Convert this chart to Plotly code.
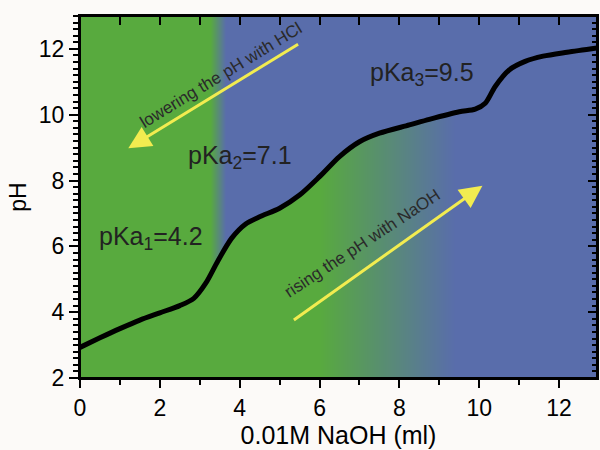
import numpy as np
import plotly.graph_objects as go

# ---- data ----
naoh_ml = [0, 0.5, 1.0, 1.5, 2.0, 2.5, 2.85, 3.15, 3.45, 3.8, 4.15, 4.5, 5.0, 5.5,
           6.0, 6.5, 7.0, 7.5, 8.25, 8.75, 9.5, 9.9, 10.15, 10.4, 10.75, 11.15,
           11.6, 12.2, 12.95]
ph = [2.93, 3.22, 3.50, 3.76, 3.98, 4.20, 4.42, 4.88, 5.55, 6.25, 6.68, 6.90, 7.16,
      7.56, 8.12, 8.73, 9.18, 9.44, 9.69, 9.86, 10.09, 10.17, 10.35, 10.86, 11.36,
      11.62, 11.78, 11.90, 12.03]

x_range = [0, 12.95]
y_range = [2, 13]
x_ticks = [0, 2, 4, 6, 8, 10, 12]
y_ticks = [2, 4, 6, 8, 10, 12]

# colour transitions (ml of NaOH) above and below the curve
above_transition = [3.28, 3.66]
below_transition = [6.0, 9.4]

pka_labels = ["pKa<sub>1</sub>=4.2", "pKa<sub>2</sub>=7.1", "pKa<sub>3</sub>=9.5"]
pka_x = [1.78, 4.01, 8.56]
pka_y = [6.25, 8.72, 11.23]

arrow_text = ["lowering the pH with HCl", "rising the pH with NaOH"]
arrow_tail_x = [5.5, 5.32]
arrow_tail_y = [12.17, 3.73]
arrow_head_x = [1.21, 10.08]
arrow_head_y = [8.98, 7.84]
arrow_text_x = [3.52, 7.07]
arrow_text_y = [11.19, 6.10]
arrow_text_angle = [-31.4, -33.4]

GREEN = "#58AA3E"
BLUE = "#596DAB"
BG = "#FCFAF8"
FONT = "Liberation Sans, Arial, sans-serif"

# background colour field: green -> blue, with a different transition
# above and below the titration curve
gx = np.linspace(x_range[0], x_range[1], 519)
gy = np.linspace(y_range[0], y_range[1], 363)
curve_at = np.interp(gx, naoh_ml, ph)
t_above = np.clip((gx - above_transition[0]) / (above_transition[1] - above_transition[0]), 0, 1)
t_below = np.clip((gx - below_transition[0]) / (below_transition[1] - below_transition[0]), 0, 1)
z = np.where(gy[:, None] > curve_at[None, :], t_above[None, :], t_below[None, :])

fig = go.Figure()

fig.add_trace(go.Heatmap(x=gx, y=gy, z=z, zmin=0, zmax=1,
                         colorscale=[[0, GREEN], [1, BLUE]], showscale=False,
                         hoverinfo="skip"))

fig.add_trace(go.Scatter(
    x=naoh_ml, y=ph, mode="lines",
    line=dict(color="black", width=5, shape="spline", smoothing=0.8),
    showlegend=False))

# transparent copy on the top/right axes so that their inward ticks are drawn
fig.add_trace(go.Scatter(x=naoh_ml, y=ph, xaxis="x2", yaxis="y2", mode="lines",
                         line=dict(width=0, color="rgba(0,0,0,0)"),
                         hoverinfo="skip", showlegend=False))

# plot frame
fig.add_shape(type="rect", xref="x domain", yref="y domain", x0=0, x1=1, y0=0, y1=1,
              line=dict(color="black", width=2), layer="above")

for t, x, y in zip(pka_labels, pka_x, pka_y):
    fig.add_annotation(x=x, y=y, text=t, showarrow=False,
                       font=dict(family=FONT, size=25, color="#222222"))

for t, tx, ty, hx, hy, txx, tyy, ang in zip(arrow_text, arrow_tail_x, arrow_tail_y,
                                           arrow_head_x, arrow_head_y,
                                           arrow_text_x, arrow_text_y, arrow_text_angle):
    fig.add_annotation(x=hx, y=hy, ax=tx, ay=ty, axref="x", ayref="y",
                       text="", showarrow=True, arrowhead=2, arrowsize=1.5,
                       arrowwidth=3, arrowcolor="#F2EC50")
    fig.add_annotation(x=txx, y=tyy, text=t, showarrow=False, textangle=ang,
                       font=dict(family=FONT, size=17, color="#2a2a2a"))

fig.update_layout(
    width=600, height=450,
    margin=dict(l=80, r=3, t=16, b=72),
    paper_bgcolor=BG, plot_bgcolor=BG,
    font=dict(family=FONT, color="black"),
    xaxis=dict(range=x_range, tickvals=x_ticks, ticks="outside", ticklen=8,
               tickwidth=2, tickcolor="black", showline=True, linewidth=2,
               linecolor="black", mirror=True, showgrid=False, zeroline=False,
               tickfont=dict(size=23), automargin=False,
               minor=dict(dtick=1, ticks="outside", ticklen=5, tickwidth=2,
                          tickcolor="black", showgrid=False),
               title=dict(text="0.01M NaOH (ml)", font=dict(size=25), standoff=2)),
    yaxis=dict(range=y_range, tickvals=y_ticks, ticks="outside", ticklen=9,
               tickwidth=2, tickcolor="black", showline=True, linewidth=2,
               linecolor="black", mirror=True, showgrid=False, zeroline=False,
               tickfont=dict(size=23), automargin=False,
               minor=dict(dtick=0.2, ticks="outside", ticklen=5, tickwidth=1.5,
                          tickcolor="black", showgrid=False),
               title=dict(text="pH", font=dict(size=23), standoff=6)),
    xaxis2=dict(range=x_range, overlaying="x", side="top", tickvals=list(range(13)),
                ticks="inside", ticklen=9, tickwidth=2, tickcolor="black",
                showticklabels=False, showline=False, showgrid=False,
                zeroline=False),
    yaxis2=dict(range=y_range, overlaying="y", side="right", tickvals=y_ticks,
                ticks="inside", ticklen=9, tickwidth=2, tickcolor="black",
                showticklabels=False, showline=False, showgrid=False,
                zeroline=False,
                minor=dict(dtick=0.2, ticks="inside", ticklen=5, tickwidth=1.5,
                           tickcolor="black", showgrid=False)),
)

fig.write_html(
    "out.html",
    config={"displayModeBar": False},
    post_script="document.body.style.margin='0';document.body.style.background='"
                + BG + "';",
)
